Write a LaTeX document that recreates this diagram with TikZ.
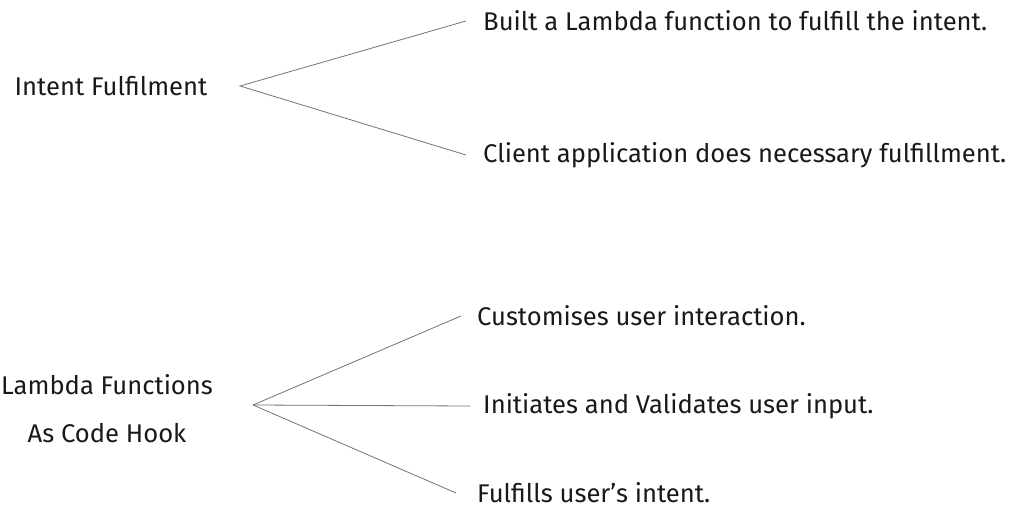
\documentclass[tikz,border=0pt]{standalone}
\usepackage{fontspec}
\setmainfont{Fira Sans}
\usetikzlibrary{positioning}

\begin{document}
\begin{tikzpicture}[x=1pt, y=-1pt, font=\fontsize{25.6}{30}\selectfont,
        topic/.style={text=black!90, align=center, inner sep=0pt},
        item/.style={text=black!90, anchor=west, inner sep=0pt},
        branch/.style={draw=black!55, line width=0.8pt}]
        \useasboundingbox (0,0) rectangle (1020,508);

        % Intent fulfilment
        \node[topic] (intent) at (111,86) {Intent Fulfilment};
        \coordinate (fork1) at (240,86);
        \node[item] (lambdafn) at (483,21) {Built a Lambda function to fulfill the intent.};
        \node[item] (client) at (483,155) {Client application does necessary fulfillment.};

        % Code hooks
        \node[topic, align=center, font=\fontsize{25.6}{48}\selectfont] (hook) at (107,409) {Lambda Functions\\As Code Hook};
        \coordinate (fork2) at (253,405);
        \node[item] (custom) at (477,316) {Customises user interaction.};
        \node[item] (validate) at (483,406) {Initiates and Validates user input.};
        \node[item] (fulfil) at (477,493) {Fulfills user’s intent.};

        % Branches
        \draw[branch] ([xshift=-17pt]lambdafn.west) -- (fork1) -- ([xshift=-17pt]client.west);
        \draw[branch] (fork2) -- ([xshift=-16pt]custom.west);
        \draw[branch] (fork2) -- ([xshift=-13pt]validate.west);
        \draw[branch] (fork2) -- ([xshift=-21pt]fulfil.west);
\end{tikzpicture}
\end{document}
